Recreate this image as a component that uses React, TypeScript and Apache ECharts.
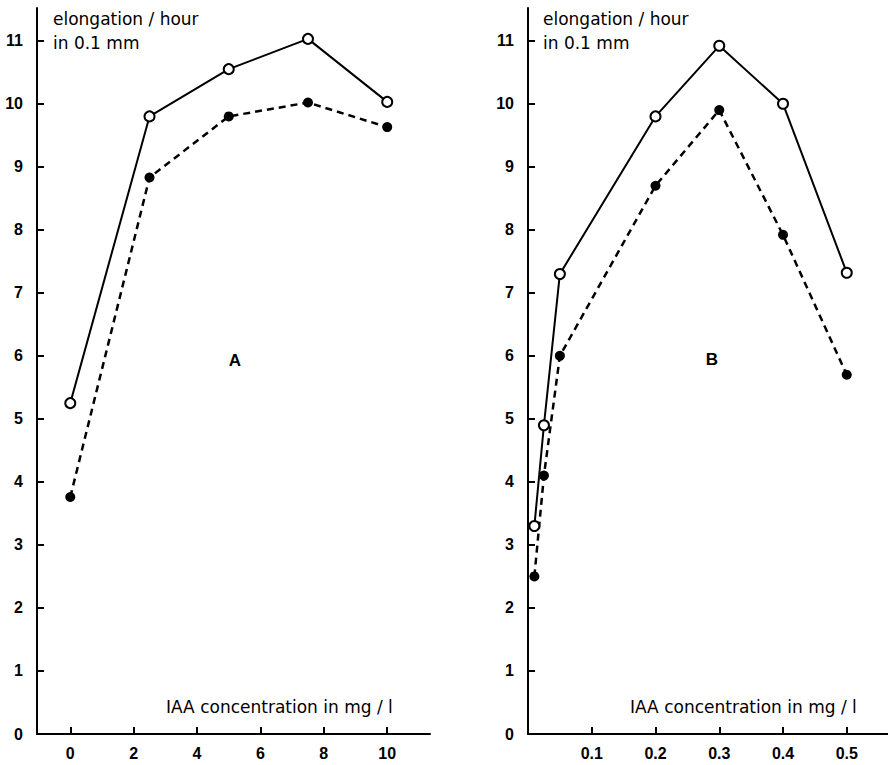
import React, { useEffect, useRef } from "react";
import * as echarts from "echarts";

// Panel A (IAA 0–10 mg/l)
const xA = [0, 2.5, 5, 7.5, 10];
const openA = [5.25, 9.8, 10.55, 11.03, 10.03];
const filledA = [3.76, 8.83, 9.8, 10.02, 9.63];
const xTicksA = [0, 2, 4, 6, 8, 10];

// Panel B (IAA 0–0.5 mg/l)
const xB = [0.01, 0.025, 0.05, 0.2, 0.3, 0.4, 0.5];
const openB = [3.3, 4.9, 7.3, 9.8, 10.92, 10.0, 7.32];
const filledB = [2.5, 4.1, 6.0, 8.7, 9.9, 7.92, 5.7];
const xTicksB = [0.1, 0.2, 0.3, 0.4, 0.5];

const yTicks = [0, 1, 2, 3, 4, 5, 6, 7, 8, 9, 10, 11];

const FONT = "'Liberation Sans', Arial, Helvetica, sans-serif";
const TFONT = "'DejaVu Sans', 'Liberation Sans', sans-serif";

export default function App() {
  const ref = useRef<HTMLDivElement>(null);
  useEffect(() => {
    document.body.style.margin = "0";
    if (!ref.current) return;
    const chart = echarts.init(ref.current, null, { renderer: "svg" });

    const axisLine = { show: true, onZero: false, lineStyle: { color: "#000", width: 2 } };
    const axisTick = (vals: number[]) => ({
      show: true,
      inside: true,
      length: 7,
      lineStyle: { color: "#000", width: 2 },
      customValues: vals,
    });
    const lbl = (vals: number[], margin: number, padding: number[]) => ({
      color: "#000",
      fontFamily: FONT,
      fontWeight: "bold",
      fontSize: 16,
      margin,
      padding,
      customValues: vals,
    });

    const xAxis = (idx: number, min: number, max: number, ticks: number[]) => ({
      type: "value",
      gridIndex: idx,
      min,
      max,
      axisLine: { ...axisLine, onZero: true },
      axisTick: axisTick(ticks),
      axisLabel: lbl(ticks, 11, [0, 0, 0, 0]),
      splitLine: { show: false },
    });
    const yAxis = (idx: number) => ({
      type: "value",
      gridIndex: idx,
      min: 0,
      max: 11.52,
      axisLine,
      axisTick: axisTick(yTicks),
      axisLabel: lbl(yTicks, 14, [8, 0, 0, 0]),
      splitLine: { show: false },
    });

    const openSeries = (idx: number, xs: number[], ys: number[]) => ({
      type: "line",
      xAxisIndex: idx,
      yAxisIndex: idx,
      data: xs.map((x, i) => [x, ys[i]]),
      symbol: "circle",
      symbolSize: 10,
      lineStyle: { color: "#000", width: 2, type: "solid" },
      itemStyle: { color: "#fff", borderColor: "#000", borderWidth: 2 },
      z: 3,
    });
    const filledSeries = (idx: number, xs: number[], ys: number[]) => ({
      type: "line",
      xAxisIndex: idx,
      yAxisIndex: idx,
      data: xs.map((x, i) => [x, ys[i]]),
      symbol: "circle",
      symbolSize: 10,
      lineStyle: { color: "#000", width: 2.5, type: [7, 5] },
      itemStyle: { color: "#000", borderColor: "#000", borderWidth: 0 },
      z: 2,
    });

    const txt = (
      x: number,
      y: number,
      text: string,
      size: number,
      weight = "normal",
      align = "left",
      family = TFONT
    ) => ({
      type: "text",
      x,
      y,
      style: {
        text,
        fill: "#000",
        font: `${weight} ${size}px ${family}`,
        textAlign: align,
        textVerticalAlign: "middle",
      },
    });

    chart.setOption({
      animation: false,
      backgroundColor: "#fff",
      grid: [
        { left: 37, top: 8, width: 393, height: 726 },
        { left: 528, top: 8, width: 360, height: 726 },
      ],
      xAxis: [xAxis(0, -1.05, 11.35, xTicksA), xAxis(1, 0, 0.5647, xTicksB)],
      yAxis: [yAxis(0), yAxis(1)],
      series: [
        filledSeries(0, xA, filledA),
        openSeries(0, xA, openA),
        filledSeries(1, xB, filledB),
        openSeries(1, xB, openB),
      ],
      graphic: [
        txt(53, 19, "elongation / hour", 17),
        txt(53, 43, "in 0.1 mm", 17),
        txt(543, 19, "elongation / hour", 17),
        txt(543, 43, "in 0.1 mm", 17),
        txt(235, 360, "A", 17, "bold", "center", FONT),
        txt(712, 359, "B", 17, "bold", "center", FONT),
        txt(166, 707, "IAA concentration in mg / l", 17),
        txt(630, 707, "IAA concentration in mg / l", 17),
      ],
    });
    return () => chart.dispose();
  }, []);
  return (
    <div
      ref={ref}
      style={{ position: "fixed", left: 0, top: 0, width: 888, height: 765, background: "#fff" }}
    />
  );
}
